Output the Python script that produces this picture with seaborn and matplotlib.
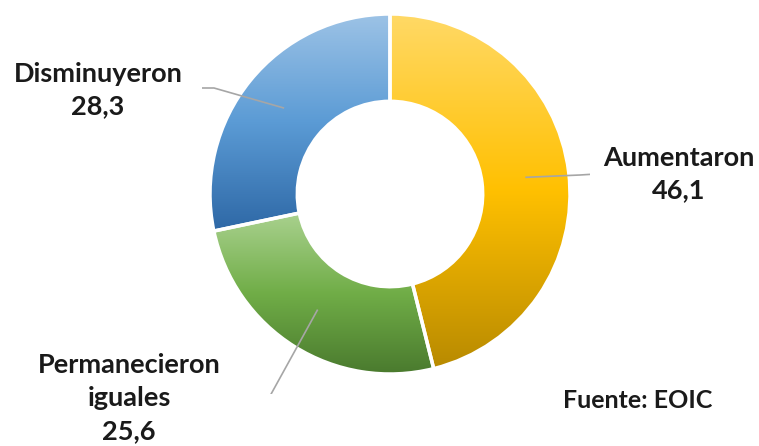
"""
Donut chart - EOIC
"""

import numpy as np
import matplotlib
matplotlib.use("Agg")
import matplotlib.pyplot as plt
import seaborn as sns

sns.set_theme(style="white")
plt.rcParams["font.family"] = ["Lato", "DejaVu Sans"]

# data (clockwise from the top)
categories = ["Aumentaron", "Permanecieron iguales", "Disminuyeron"]
values = [46.1, 25.6, 28.3]
value_labels = ["46,1", "25,6", "28,3"]

# gradient stops per slice: top -> middle -> bottom
gradients = [
    ["#FFD966", "#FFC000", "#B88A00"],
    ["#A9D18E", "#70AD47", "#4A7A2E"],
    ["#9DC3E6", "#5B9BD5", "#2E68A6"],
]

W, H = 759, 446
CX, CY, R = 390, 194, 180  # donut centre / radius in pixels


def px(x, y):
    # pixel position (from top-left) -> data coords of the pie axes
    return (x - CX) / R, (CY - y) / R


fig = plt.figure(figsize=(W / 100, H / 100), dpi=100)
ax = fig.add_axes([(CX - 200) / W, (H - CY - 200) / H, 400 / W, 400 / H])

wedges, _ = ax.pie(
    values,
    startangle=90,
    counterclock=False,
    radius=1,
    wedgeprops=dict(width=0.485, edgecolor="white", linewidth=2.5),
)

# vertical gradient fill clipped to every wedge
for wedge, stops in zip(wedges, gradients):
    cmap = sns.blend_palette(stops, n_colors=256, as_cmap=True)
    bb = wedge.get_path().get_extents()
    grad = np.linspace(0, 1, 256).reshape(-1, 1)
    im = ax.imshow(
        grad,
        cmap=cmap,
        extent=[bb.x0, bb.x1, bb.y0, bb.y1],
        origin="upper",
        aspect="auto",
        zorder=1,
        interpolation="bicubic",
    )
    im.set_clip_path(wedge)
    wedge.set_facecolor("none")
    wedge.set_zorder(2)

ax.set_xlim(-200 / R, 200 / R)
ax.set_ylim(-200 / R, 200 / R)
ax.axis("off")

# leader lines: from wedge middle to an elbow near the label
elbows = [
    [(580, 175), (596, 174)],
    [(270, 396), (255, 396)],
    [(214, 88), (202, 88)],
]
r_mid = 1 - 0.485 / 2
for wedge, pts in zip(wedges, elbows):
    ang = np.deg2rad((wedge.theta1 + wedge.theta2) / 2)
    xs = [r_mid * np.cos(ang)] + [px(*p)[0] for p in pts]
    ys = [r_mid * np.sin(ang)] + [px(*p)[1] for p in pts]
    ax.plot(xs, ys, color="#A6A6A6", lw=1.2, zorder=3, solid_capstyle="butt")

# labels
label_pos = [(679, 174), (129, 398), (98, 90)]
label_text = ["Aumentaron", "Permanecieron\niguales", "Disminuyeron"]
for (x, y), txt, val in zip(label_pos, label_text, value_labels):
    fig.text(
        x / W, 1 - y / H, f"{txt}\n{val}",
        ha="center", va="center", fontsize=19.5, fontweight="bold",
        color="#1A1A1A", linespacing=1.45,
    )

fig.text(638 / W, 1 - 400 / H, "Fuente: EOIC", ha="center", va="center",
         fontsize=18, fontweight="bold", color="#1A1A1A")

fig.savefig("out.png", dpi=100)
